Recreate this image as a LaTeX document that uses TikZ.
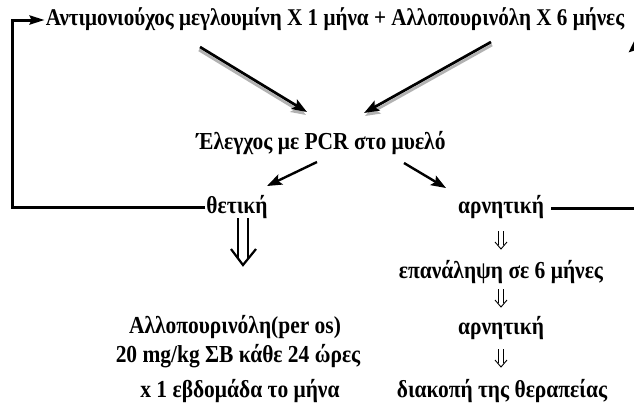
\documentclass[tikz,border=0pt]{standalone}
\usepackage{fontspec}
\setmainfont[FakeStretch=0.88]{Liberation Serif}
\usetikzlibrary{arrows.meta,calc}
\begin{document}
\begin{tikzpicture}[x=1pt,y=-1pt,
  txt/.style={font=\bfseries\fontsize{24.4}{27}\selectfont, inner sep=1pt, anchor=center},
  conn/.style={line width=3pt, line cap=butt},
  bigarrow/.style={line width=2.7pt, -{Stealth[length=15pt,width=11pt,inset=3pt]}},
  shadowarrow/.style={line width=2.7pt, black!30, -{Stealth[length=15pt,width=11pt,inset=3pt]}},
  smalldbl/.pic={
    \draw[line width=0.9pt] (-2.6,-9) -- (-2.6,5) (2.6,-9) -- (2.6,5);
    \draw[line width=0.9pt, line join=miter] (-6,2) -- (0,9) -- (6,2);},
  bigdbl/.pic={
    \draw[line width=2.2pt] (-5,-23) -- (-5,17) (5,-23) -- (5,17);
    \draw[line width=2.2pt, line join=miter] (-12,8) -- (0,24) -- (13,8);}
]
\useasboundingbox (0,0) rectangle (634,416);
\clip (0,0) rectangle (634,416);
\fill[white] (0,0) rectangle (634,416);

\node[txt, font=\bfseries\fontsize{24}{27}\selectfont] (top) at (335,19) {Αντιμονιούχος μεγλουμίνη X 1 μήνα + Αλλοπουρινόλη X 6 μήνες};
\node[txt] (pcr) at (321,143) {Έλεγχος με PCR στο μυελό};
\node[txt] (pos) at (237,207) {θετική};
\node[txt] (neg) at (501,207) {αρνητική};
\node[txt] (rep) at (501,272) {επανάληψη σε 6 μήνες};
\node[txt] (neg2) at (501,328) {αρνητική};
\node[txt] (stop) at (502,391) {διακοπή της θεραπείας};
\node[txt] (allo) at (235,327) {Αλλοπουρινόλη(per os)};
\node[txt] (dose) at (238,356) {20 mg/kg ΣΒ κάθε 24 ώρες};
\node[txt] (week) at (240,391) {x 1 εβδομάδα το μήνα};

% shadowed arrows from top
\coordinate (a1s) at (200,47);
\coordinate (a1e) at (307,112);
\coordinate (a2s) at (491,42);
\coordinate (a2e) at (364,113);
\draw[shadowarrow] ([shift={(-1,3)}]a1s) -- ([shift={(-1,3)}]a1e);
\draw[shadowarrow] ([shift={(1,3)}]a2s) -- ([shift={(1,3)}]a2e);
\draw[bigarrow] (a1s) -- (a1e);
\draw[bigarrow] (a2s) -- (a2e);

% from PCR
\coordinate (b1s) at (317,162);
\coordinate (b1e) at (267,186);
\coordinate (b2s) at (404,163);
\coordinate (b2e) at (446,188);
\draw[bigarrow, line width=2.4pt] (b1s) -- (b1e);
\draw[bigarrow, line width=2.4pt] (b2s) -- (b2e);

% left loop
\coordinate (lc) at (12,207);
\coordinate (lt) at (12,20);
\draw[conn, -{Stealth[length=15pt,width=9pt,inset=2pt]}] (pos.west) -- (lc) -- (lt) -- (top.west |- lt);

% right loop
\coordinate (rc) at (636,208);
\coordinate (rt) at (636,37);
\draw[conn, -{Stealth[length=15pt,width=14pt,inset=2pt]}] ([xshift=6pt]neg.east |- rc) -- (rc) -- (rt);

% big double arrow
\pic at (243,241) {bigdbl};

% small double arrows
\pic at (501,240) {smalldbl};
\pic at (501,298) {smalldbl};
\pic at (501,358) {smalldbl};
\end{tikzpicture}
\end{document}
